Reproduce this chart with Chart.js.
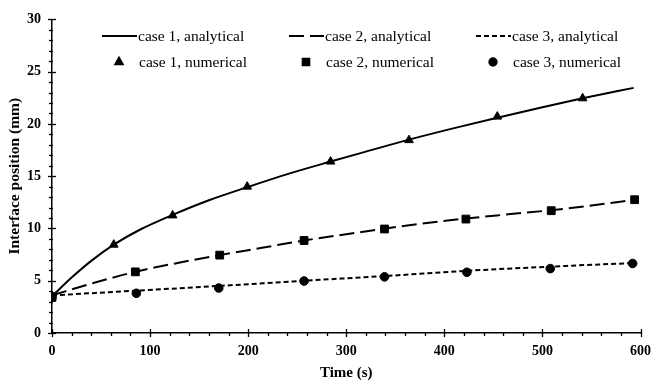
<!DOCTYPE html>
<html>
<head>
<meta charset="utf-8">
<script src="https://cdn.jsdelivr.net/npm/chart.js@4.4.1/dist/chart.umd.min.js"></script>
<style>
  html, body { margin: 0; padding: 0; background: #fff; }
  #wrap { width: 661px; height: 390px; position: relative; }
</style>
</head>
<body>
<div id="wrap"><canvas id="c" width="661" height="390"></canvas></div>
<script>
// ---- data ----
const seriesLabels = [
  'case 1, analytical', 'case 2, analytical', 'case 3, analytical',
  'case 1, numerical', 'case 2, numerical', 'case 3, numerical'
];

const case1AnalyticalTime  = [0, 20, 40, 63, 90, 123, 160, 199, 240, 284, 320, 364, 410, 454, 500, 541, 593];
const case1AnalyticalValue = [3.5, 5.3, 6.9, 8.45, 9.9, 11.3, 12.7, 13.95, 15.2, 16.4, 17.35, 18.5, 19.6, 20.6, 21.6, 22.45, 23.45];

const case2AnalyticalTime  = [0, 43, 85, 128, 171, 214, 257, 300, 340, 380, 422, 465, 509, 550, 594];
const case2AnalyticalValue = [3.6, 4.8, 5.85, 6.7, 7.45, 8.15, 8.85, 9.45, 10.0, 10.5, 10.95, 11.35, 11.75, 12.2, 12.75];

const case3AnalyticalTime  = [0, 86, 170, 257, 340, 423, 508, 594];
const case3AnalyticalValue = [3.6, 4.05, 4.5, 5.0, 5.45, 5.95, 6.35, 6.7];

const case1NumericalTime  = [0, 63, 123, 199, 284, 364, 454, 541];
const case1NumericalValue = [3.5, 8.45, 11.25, 14.0, 16.4, 18.45, 20.7, 22.45];

const case2NumericalTime  = [0, 85, 171, 257, 339, 422, 509, 594];
const case2NumericalValue = [3.4, 5.85, 7.45, 8.85, 9.95, 10.9, 11.7, 12.75];

const case3NumericalTime  = [0, 86, 170, 257, 339, 423, 508, 592];
const case3NumericalValue = [3.5, 3.8, 4.3, 4.97, 5.37, 5.81, 6.16, 6.65];

const xTickLabels = [0, 100, 200, 300, 400, 500, 600];
const yTickLabels = [0, 5, 10, 15, 20, 25, 30];
const xTitle = 'Time (s)';
const yTitle = 'Interface position (mm)';

// ---- build ----
const pts = (xs, ys) => xs.map((x, i) => ({ x: x, y: ys[i] }));
const SERIF = "'Liberation Serif', 'Times New Roman', serif";

const lineDs = (label, xs, ys, dash) => ({
  type: 'line', label, data: pts(xs, ys),
  borderColor: '#000', borderWidth: 2, borderDash: dash,
  pointRadius: 0, fill: false, tension: 0.4, cubicInterpolationMode: 'monotone'
});
const markDs = (label, xs, ys, style, r) => ({
  type: 'line', label, data: pts(xs, ys), showLine: false,
  pointStyle: style, pointRadius: r, pointHoverRadius: r,
  pointBackgroundColor: '#000', pointBorderColor: '#000', pointBorderWidth: 1
});

const datasets = [
  lineDs(seriesLabels[0], case1AnalyticalTime, case1AnalyticalValue, []),
  lineDs(seriesLabels[1], case2AnalyticalTime, case2AnalyticalValue, [15, 6]),
  lineDs(seriesLabels[2], case3AnalyticalTime, case3AnalyticalValue, [5, 3]),
  markDs(seriesLabels[3], case1NumericalTime, case1NumericalValue, 'triangle', 5),
  markDs(seriesLabels[4], case2NumericalTime, case2NumericalValue, 'rect', 5.5),
  markDs(seriesLabels[5], case3NumericalTime, case3NumericalValue, 'circle', 4.3)
];

// custom crossing ticks drawn from the scales
const tickPlugin = {
  id: 'crossTicks',
  afterDraw(chart) {
    const ctx = chart.ctx;
    const xs = chart.scales.x, ys = chart.scales.y;
    const a = chart.chartArea;
    ctx.save();
    ctx.strokeStyle = '#000';
    ctx.lineWidth = 1.3;
    xs.ticks.forEach(t => {
      const px = Math.round(xs.getPixelForValue(t.value)) + 0.5;
      const major = xTickLabels.includes(t.value);
      ctx.beginPath();
      ctx.moveTo(px, a.bottom - (major ? 4 : 1));
      ctx.lineTo(px, a.bottom + (major ? 4 : 3));
      ctx.stroke();
    });
    ys.ticks.forEach(t => {
      const py = Math.round(ys.getPixelForValue(t.value)) + 0.5;
      const major = yTickLabels.includes(t.value);
      ctx.beginPath();
      ctx.moveTo(a.left - (major ? 4 : 3), py);
      ctx.lineTo(a.left + (major ? 4 : 1), py);
      ctx.stroke();
    });
    ctx.restore();
  }
};

// custom two-row legend drawn from dataset styles
const legendPlugin = {
  id: 'twoRowLegend',
  afterDraw(chart) {
    const ctx = chart.ctx;
    const ds = chart.data.datasets;
    const colX = [102, 289, 476];
    const rowY = [36, 62];
    ctx.save();
    ctx.font = '15.5px ' + SERIF;
    ctx.fillStyle = '#000';
    ctx.textBaseline = 'middle';
    for (let i = 0; i < 3; i++) {
      const d = ds[i];
      ctx.strokeStyle = d.borderColor;
      ctx.lineWidth = d.borderWidth;
      ctx.setLineDash(d.borderDash || []);
      ctx.beginPath();
      ctx.moveTo(colX[i], rowY[0]);
      ctx.lineTo(colX[i] + 35, rowY[0]);
      ctx.stroke();
      ctx.setLineDash([]);
      ctx.fillText(d.label, colX[i] + 36, rowY[0] + 1);

      const m = ds[i + 3];
      Chart.helpers.drawPoint(ctx, {
        pointStyle: m.pointStyle, radius: m.pointRadius * 0.85, borderWidth: 1, rotation: 0
      }, colX[i] + 17, rowY[1]);
      ctx.fillStyle = '#000';
      ctx.fill();
      ctx.fillText(m.label, colX[i] + 37, rowY[1] + 1);
    }
    ctx.restore();
  }
};

new Chart(document.getElementById('c'), {
  type: 'line',
  data: { datasets },
  plugins: [tickPlugin, legendPlugin],
  options: {
    responsive: false,
    animation: false,
    layout: { padding: { top: 13, right: 19, left: 0, bottom: 0 } },
    plugins: { legend: { display: false }, tooltip: { enabled: false } },
    scales: {
      x: {
        type: 'linear', min: 0, max: 600,
        afterFit: s => { s.height = 57; },
        grid: { display: true, drawOnChartArea: false, drawTicks: false },
        border: { display: true, color: '#000', width: 1.5 },
        ticks: {
          stepSize: 20, autoSkip: false, maxRotation: 0, padding: 10,
          color: '#000', font: { family: SERIF, size: 14, weight: 'bold' },
          callback: v => xTickLabels.includes(v) ? String(v) : ''
        },
        title: { display: true, text: xTitle, color: '#000',
          font: { family: SERIF, size: 15, weight: 'bold' }, padding: { top: 0, bottom: 8 } }
      },
      y: {
        type: 'linear', min: 0, max: 30,
        afterFit: s => { s.width = 52; },
        grid: { display: true, drawOnChartArea: false, drawTicks: false },
        border: { display: true, color: '#000', width: 1.5 },
        ticks: {
          stepSize: 1, autoSkip: false, padding: 11,
          color: '#000', font: { family: SERIF, size: 14, weight: 'bold' },
          callback: v => yTickLabels.includes(v) ? String(v) : ''
        },
        title: { display: true, text: yTitle, color: '#000',
          font: { family: SERIF, size: 15.5, weight: 'bold' }, padding: { top: 6, bottom: 0 } }
      }
    }
  }
});
</script>
</body>
</html>
